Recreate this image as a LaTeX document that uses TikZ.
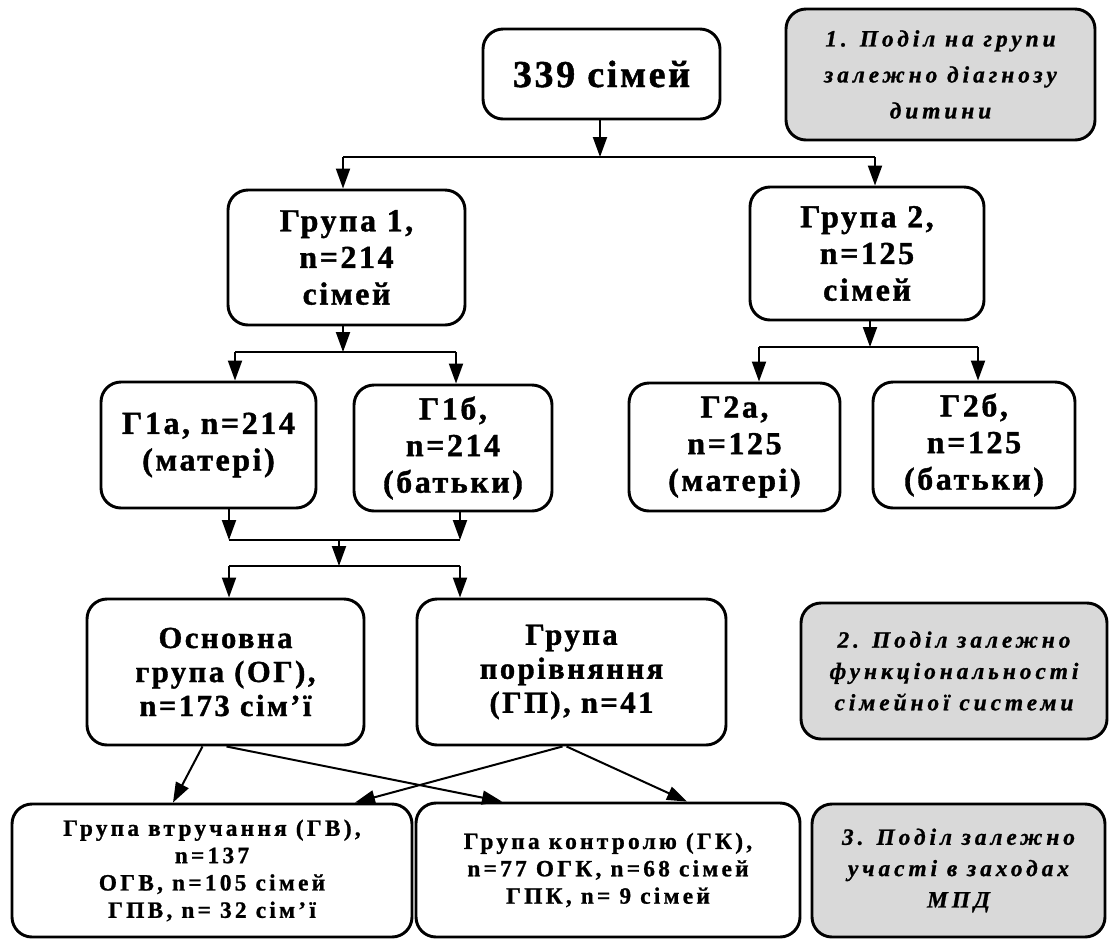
\documentclass[tikz,border=0pt]{standalone}
\usepackage{fontspec}
\setmainfont{Liberation Serif}
\newfontfamily\topfont[LetterSpace=7,FakeBold=1.2]{Liberation Serif}
\newfontfamily\boxfont[LetterSpace=8,FakeBold=1.2]{Liberation Serif}
\newfontfamily\lowfont[LetterSpace=14,FakeBold=1]{Liberation Serif}
\newfontfamily\notefont[LetterSpace=17,FakeBold=1]{Liberation Serif}
\newcommand{\topfnt}{\topfont\bfseries\fontsize{28.5}{34}\selectfont}
\newcommand{\midfnt}{\boxfont\bfseries\fontsize{24}{27.5}\selectfont}
\newcommand{\ogfnt}{\boxfont\bfseries\fontsize{23}{25.5}\selectfont}
\newcommand{\lowfnt}{\lowfont\bfseries\fontsize{17.5}{20.5}\selectfont}
\newcommand{\notefnt}{\notefont\bfseries\itshape\fontsize{17.5}{23.5}\selectfont}
\usetikzlibrary{calc,arrows.meta}

\begin{document}
\begin{tikzpicture}
[x=0.75pt,y=-0.75pt,inner sep=0pt,
box/.style={draw,line width=2.2pt,rounded corners=15pt,align=center,fill=white},
note/.style={box,fill=black!15,font=\notefnt},
arr/.style={line width=1.5pt,-{Triangle[length=15pt,width=10.5pt]}},
bar/.style={line width=1.1pt}]
\useasboundingbox (0,0) rectangle (1109,940);
% top level
\node (top) at (601.5,74) [box,font=\topfnt,minimum width=177.75pt,minimum height=67.5pt] {339 сімей};
\node (note1) at (940.5,74.5) [note,font={\notefont\bfseries\itshape\fontsize{17.5}{27}\selectfont},minimum width=231.75pt,minimum height=98.25pt] {1. Поділ на групи\\залежно діагнозу\\дитини};
\node (grp1) at (346.5,257.5) [box,font=\midfnt,minimum width=177.75pt,minimum height=101.25pt] {Група 1,\\n=214\\сімей};
\node (grp2) at (867,253.5) [box,font=\midfnt,minimum width=175.5pt,minimum height=99.75pt] {Група 2,\\n=125\\сімей};
% mothers / fathers
\node (g1a) at (208.5,445) [box,font=\midfnt,minimum width=161.25pt,minimum height=94.5pt] {Г1а, n=214\\(матері)};
\node (g1b) at (453,448) [box,font=\midfnt,minimum width=148.5pt,minimum height=94.5pt] {Г1б,\\n=214\\(батьки)};
\node (g2a) at (734.5,447) [box,font=\midfnt,minimum width=158.25pt,minimum height=96pt] {Г2а,\\n=125\\(матері)};
\node (g2b) at (974,445) [box,font=\midfnt,minimum width=151.5pt,minimum height=94.5pt] {Г2б,\\n=125\\(батьки)};
% family function
\node (og) at (225.5,672) [box,font=\ogfnt,minimum width=207.75pt,minimum height=109.5pt] {Основна\\група (ОГ),\\n=173 сім’ї};
\node (gp) at (571.5,672) [box,font=\ogfnt,minimum width=231.75pt,minimum height=109.5pt] {Група\\порівняння\\(ГП), n=41};
\node (note2) at (954,671) [note,minimum width=229.5pt,minimum height=102pt] {2. Поділ залежно\\функціональності\\сімейної системи};
% intervention
\node (gv) at (212,870.5) [box,font=\lowfnt,minimum width=300pt,minimum height=99.75pt] {Група втручання (ГВ),\\n=137\\ОГВ, n=105 сімей\\ГПВ, n= 32 сім’ї};
\node (gk) at (608,870) [box,font=\lowfnt,minimum width=288pt,minimum height=100.5pt] {Група контролю (ГК),\\n=77 ОГК, n=68 сімей\\ГПК, n= 9 сімей};
\node (note3) at (958.5,870.5) [note,minimum width=219.75pt,minimum height=99.75pt] {3. Поділ залежно\\участі в заходах\\МПД};
% branch points
\coordinate (s0) at (600,157);
\coordinate (s0l) at (343,157);
\coordinate (s0r) at (875,157);
\coordinate (s1) at (343,352);
\coordinate (s1l) at (235,352);
\coordinate (s1r) at (456,352);
\coordinate (s2) at (870,347);
\coordinate (s2l) at (759,347);
\coordinate (s2r) at (978,347);
\coordinate (j1) at (339,540);
\coordinate (j1l) at (229,540);
\coordinate (j1r) at (460,540);
\coordinate (s3) at (339,566);
\coordinate (s3l) at (229,566);
\coordinate (s3r) at (460,566);
\draw [arr] (top.south -| s0) -- (s0);
\draw [bar] (s0l) -- (s0r);
\draw [arr] (s0l) -- (s0l |- grp1.north);
\draw [arr] (s0r) -- (s0r |- grp2.north);
\draw [arr] (grp1.south -| s1) -- (s1);
\draw [bar] (s1l) -- (s1r);
\draw [arr] (s1l) -- (s1l |- g1a.north);
\draw [arr] (s1r) -- (s1r |- g1b.north);
\draw [arr] (grp2.south -| s2) -- (s2);
\draw [bar] (s2l) -- (s2r);
\draw [arr] (s2l) -- (s2l |- g2a.north);
\draw [arr] (s2r) -- (s2r |- g2b.north);
\draw [arr] (g1a.south -| j1l) -- (j1l);
\draw [arr] (g1b.south -| j1r) -- (j1r);
\draw [bar] (j1l) -- (j1r);
\draw [arr] (j1) -- (s3);
\draw [bar] (s3l) -- (s3r);
\draw [arr] (s3l) -- (s3l |- og.north);
\draw [arr] (s3r) -- (s3r |- gp.north);
% crossing arrows
\draw [arr] ($(og.south)+(-23,0)$) -- ($(gv.north)+(-39,0)$);
\draw [arr] ($(og.south)+(1,0)$) -- ($(gk.north)+(-106,0)$);
\draw [arr] ($(gp.south)+(-9,0)$) -- ($(gv.north)+(143,0)$);
\draw [arr] ($(gp.south)+(-5,0)$) -- ($(gk.north)+(79,0)$);
\end{tikzpicture}
\end{document}
